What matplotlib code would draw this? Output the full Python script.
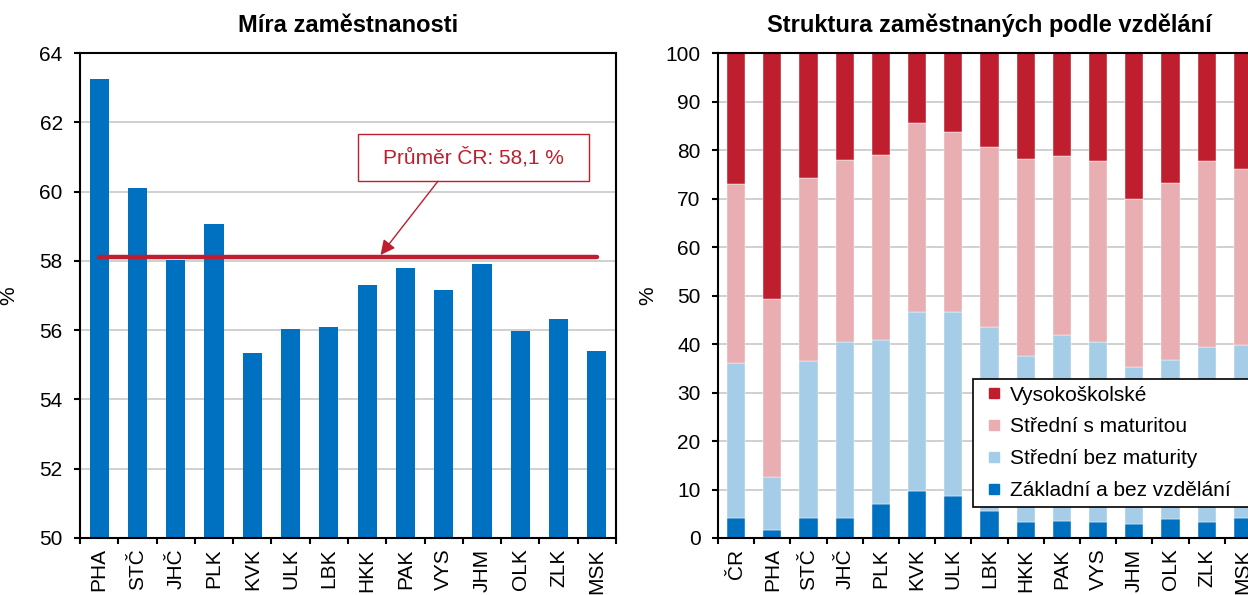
import numpy as np
import matplotlib
matplotlib.use('Agg')
import matplotlib.pyplot as plt
from matplotlib.lines import Line2D
from matplotlib.patches import Rectangle
from matplotlib.ticker import FixedLocator, MultipleLocator

plt.rcParams['font.family'] = ['Liberation Sans', 'DejaVu Sans']

# míra zaměstnanosti podle krajů
kraje = ['PHA', 'STČ', 'JHČ', 'PLK', 'KVK', 'ULK', 'LBK', 'HKK', 'PAK', 'VYS',
         'JHM', 'OLK', 'ZLK', 'MSK']
mira = [63.26, 60.11, 58.02, 59.07, 55.35, 56.02, 56.08, 57.30, 57.78, 57.16,
        57.91, 55.97, 56.32, 55.40]
prumer_cr = 58.1

# struktura podle vzdělání (ČR + kraje), v %
kategorie = ['ČR'] + kraje
zakladni = [4.2, 1.6, 4.1, 4.1, 7.1, 9.6, 8.6, 5.6, 3.3, 3.6, 3.4, 2.9, 3.9, 3.3, 4.1]
bez_maturity = [31.8, 10.9, 32.3, 36.4, 33.7, 37.1, 38.1, 38.0, 34.3, 38.3, 37.1, 32.4, 32.9, 36.0, 35.7]
s_maturitou = [37.0, 36.8, 37.9, 37.4, 38.2, 38.8, 37.0, 37.1, 40.6, 36.9, 37.3, 34.6, 36.4, 38.4, 36.2]
vysokoskolske = [27.0, 50.7, 25.7, 22.1, 21.0, 14.5, 16.3, 19.3, 21.8, 21.2, 22.2, 30.1, 26.8, 22.3, 24.0]

modra = '#0070C0'
svetle_modra = '#A6CDE8'
ruzova = '#E8AEB1'
cervena = '#BE1E2D'
FS = 15
FS_TITLE = 17

fig = plt.figure(figsize=(12.48, 5.95), dpi=100)
ax1 = fig.add_axes([0.0641, 0.0958, 0.4295, 0.8151])
ax2 = fig.add_axes([0.5753, 0.0958, 0.4351, 0.8151])


def styl_os(ax, n):
    ax.set_xlim(-0.5, n - 0.5)
    ax.yaxis.grid(True, color='#C8C8C8', lw=1.2)
    ax.set_axisbelow(True)
    for s in ax.spines.values():
        s.set_linewidth(1.5)
        s.set_color('black')
    ax.xaxis.set_minor_locator(FixedLocator(np.arange(-0.5, n, 1)))
    ax.tick_params(axis='x', which='major', length=0, labelsize=FS, rotation=90, pad=7.5)
    ax.tick_params(axis='x', which='minor', length=4.5, width=1.5, direction='out')
    ax.tick_params(axis='y', length=4.5, width=1.5, labelsize=FS, pad=8)


# levý graf
x1 = np.arange(len(kraje))
ax1.bar(x1, mira, width=0.5, color=modra, zorder=2)
ax1.set_ylim(50, 64)
ax1.yaxis.set_major_locator(MultipleLocator(2))
ax1.set_xticks(x1)
ax1.set_xticklabels(kraje)
styl_os(ax1, len(kraje))
ax1.plot([x1[0], x1[-1]], [prumer_cr, prumer_cr], color=cervena, lw=3.2,
         solid_capstyle='round', zorder=3)

# popisek průměru: rámeček, text a šipka
ax1.add_patch(Rectangle((6.77, 60.3), 6.02, 1.36, fc='white', ec=cervena,
                        lw=1, zorder=4))
ax1.text(9.78, 60.98, 'Průměr ČR: 58,1 %', ha='center', va='center',
         color=cervena, fontsize=FS, zorder=5)
ax1.annotate('', xy=(7.35, 58.17), xytext=(8.85, 60.3),
             arrowprops=dict(arrowstyle='-|>', color=cervena, lw=1,
                             mutation_scale=22, shrinkA=0, shrinkB=0),
             zorder=4)
ax1.set_title('Míra zaměstnanosti', fontsize=FS_TITLE, fontweight='bold', pad=15)
ax1.set_ylabel('%', fontsize=FS)
ax1.yaxis.set_label_coords(-0.115, 0.5)

# pravý graf
x2 = np.arange(len(kategorie))
spodek = np.zeros(len(kategorie))
serie = [(zakladni, modra, 'Základní a bez vzdělání'),
         (bez_maturity, svetle_modra, 'Střední bez maturity'),
         (s_maturitou, ruzova, 'Střední s maturitou'),
         (vysokoskolske, cervena, 'Vysokoškolské')]
for hodnoty, barva, popis in serie:
    ax2.bar(x2, hodnoty, width=0.5, bottom=spodek, color=barva,
            edgecolor='white', linewidth=0.3, zorder=2)
    spodek += np.array(hodnoty)
ax2.set_ylim(0, 100)
ax2.yaxis.set_major_locator(MultipleLocator(10))
ax2.set_xticks(x2)
ax2.set_xticklabels(kategorie)
styl_os(ax2, len(kategorie))
ax2.set_title('Struktura zaměstnaných podle vzdělání', fontsize=FS_TITLE,
              fontweight='bold', pad=15)
ax2.set_ylabel('%', fontsize=FS)
ax2.yaxis.set_label_coords(-0.112, 0.5)

# legenda přesahuje pravý okraj obrázku jako v originále
znacky = [Line2D([], [], ls='', marker='s', markersize=7.5, color=b, mec=b)
          for _, b, _ in serie][::-1]
popisy = [p for _, _, p in serie][::-1]
leg = ax2.legend(znacky, popisy, loc='lower left', mode='expand',
                 bbox_to_anchor=(0.7794, 0.148, 0.25, 0.2),
                 bbox_transform=fig.transFigure,
                 fontsize=FS, fancybox=False, framealpha=1, edgecolor='black',
                 handlelength=1.36, handletextpad=0.13,
                 labelspacing=0.62, borderpad=0.32, borderaxespad=0)
leg.get_frame().set_linewidth(1.2)
leg.set_zorder(6)

fig.savefig('out.png', dpi=100)
